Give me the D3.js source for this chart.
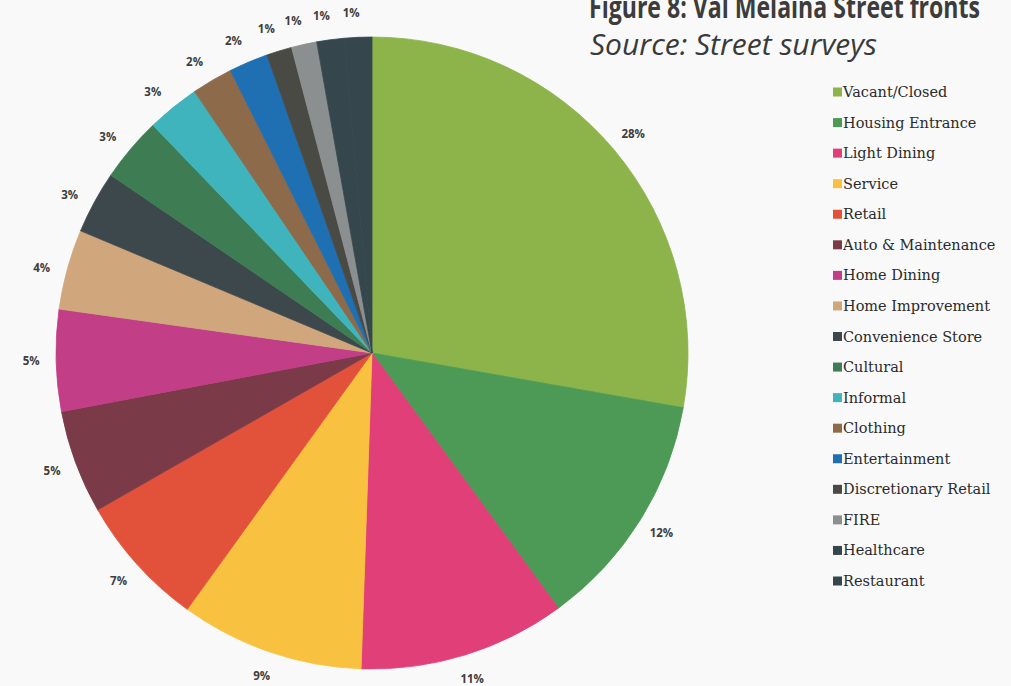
<!DOCTYPE html>
<html>
<head>
<meta charset="utf-8">
<script src="https://cdn.jsdelivr.net/npm/d3@7"></script>
<style>
  html, body { margin: 0; padding: 0; background: #f9f9f9; }
  svg { display: block; }
</style>
</head>
<body>
<svg id="chart" width="1011" height="686"></svg>
<script>
const categories = ["Vacant/Closed", "Housing Entrance", "Light Dining", "Service", "Retail",
  "Auto & Maintenance", "Home Dining", "Home Improvement", "Convenience Store", "Cultural",
  "Informal", "Clothing", "Entertainment", "Discretionary Retail", "FIRE", "Healthcare", "Restaurant"];
const values = [27.8, 12.2, 10.6, 9.4, 6.8, 5.3, 5.2, 4.1, 3.2, 3.3, 2.7, 2.1, 2.0, 1.3, 1.3, 1.4, 1.4];
const colors = ["#8cb44b", "#4c9a55", "#e03f78", "#f8c140", "#e2513a", "#7a3a48", "#c23f88",
  "#d0a77c", "#3d484d", "#3e7d53", "#40b4bc", "#8c6a4a", "#1e70b2", "#4a4a45", "#8c8f90",
  "#35474c", "#35474c"];
const titleText = "Figure 8: Val Melaina Street fronts";
const subtitleText = "Source:  Street surveys";

const svg = d3.select("#chart");
const W = 1011, H = 686;
svg.append("rect").attr("width", W).attr("height", H).attr("fill", "#f9f9f9");

const cx = 372, cy = 353, R = 316, labelR = 341;
const data = categories.map((c, i) => ({ name: c, value: values[i], color: colors[i] }));
const total = d3.sum(values);
const pie = d3.pie().value(d => d.value).sort(null);
const arcs = pie(data);
const arc = d3.arc().innerRadius(0).outerRadius(R);
const pct = d3.format(".0%");

const g = svg.append("g").attr("transform", `translate(${cx},${cy})`);
g.selectAll("path.slice").data(arcs).join("path")
  .attr("class", "slice")
  .attr("d", arc)
  .attr("fill", d => d.data.color)
  .attr("stroke", d => d.data.color)
  .attr("stroke-width", 0.8);

// labels in the upper-left quarter sit slightly anticlockwise of their slice middle, as in the reference
const nudge = d => (d.startAngle > 1.5 * Math.PI) ? -0.017 : 0;
g.selectAll("text.lbl").data(arcs).join("text")
  .attr("class", "lbl")
  .attr("transform", d => {
    const a = (d.startAngle + d.endAngle) / 2 + nudge(d);
    return `translate(${labelR * Math.sin(a)},${-labelR * Math.cos(a)})`;
  })
  .attr("text-anchor", "middle")
  .attr("dy", "0.35em")
  .attr("font-family", "'Open Sans', 'Liberation Sans', sans-serif")
  .attr("font-weight", 700)
  .attr("font-size", 11.5)
  .attr("fill", "#3e3e3e")
  .text(d => pct(Math.round(d.data.value / total * 100) / 100));

// Title
svg.append("text")
  .attr("x", 589).attr("y", 18)
  .attr("font-family", "'Liberation Sans Narrow', 'Open Sans', sans-serif")
  .attr("font-weight", 700)
  .attr("font-size", 30)
  .attr("fill", "#3c3c3c")
  .attr("textLength", 391)
  .attr("lengthAdjust", "spacingAndGlyphs")
  .text(titleText);

svg.append("text")
  .attr("x", 590).attr("y", 55)
  .attr("font-family", "'Open Sans', 'Liberation Sans', sans-serif")
  .attr("font-style", "italic")
  .attr("font-size", 30)
  .attr("fill", "#3a3a3a")
  .attr("textLength", 287)
  .attr("lengthAdjust", "spacingAndGlyphs")
  .text(subtitleText);

// Legend
const ly = d3.scalePoint().domain(categories).range([92, 581]);
const leg = svg.append("g");
const items = leg.selectAll("g").data(data).join("g")
  .attr("transform", d => `translate(833,${ly(d.name)})`);
items.append("rect")
  .attr("x", 0).attr("y", -4.5).attr("width", 9).attr("height", 9)
  .attr("fill", d => d.color);
items.append("text")
  .attr("x", 10).attr("y", 5)
  .attr("font-family", "'DejaVu Serif', 'Liberation Serif', serif")
  .attr("font-size", 14.5)
  .attr("fill", "#2b2b2b")
  .text(d => d.name);
</script>
</body>
</html>
